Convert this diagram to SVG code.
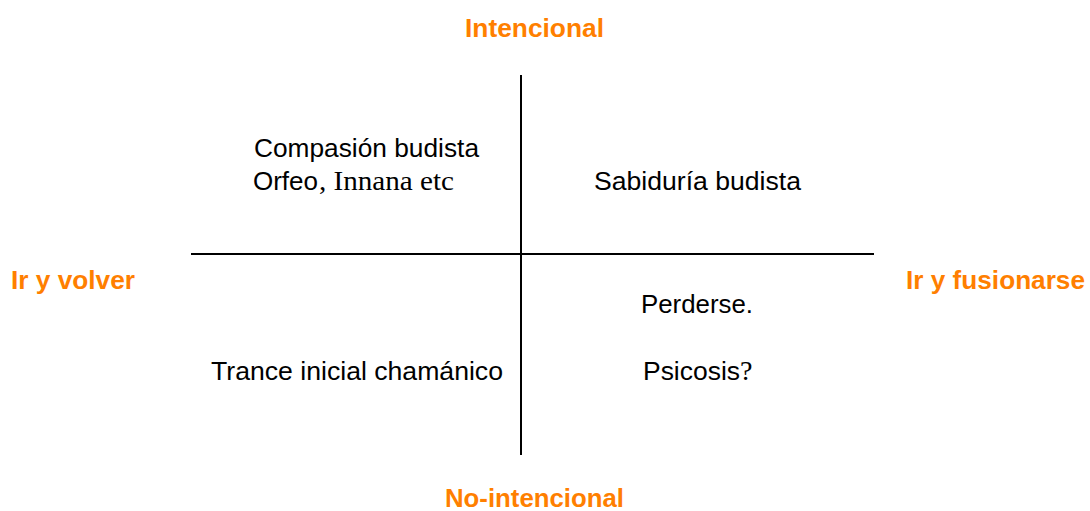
<svg xmlns="http://www.w3.org/2000/svg" width="1090" height="511" viewBox="0 0 1090 511">
<style>
.axis{font-family:"Liberation Sans",Arial,sans-serif;font-weight:bold;font-size:26px;fill:#FF7F00}
.t{font-family:"Liberation Sans",Arial,sans-serif;font-size:26px;fill:#000}
.s{font-family:"Liberation Serif","Times New Roman",serif;font-size:28px;fill:#000}
.ln{stroke:#000;stroke-width:2;fill:none}
</style>
<rect width="1090" height="511" fill="#fff"/>
<g id="connectors">
<line class="ln" x1="521" y1="75" x2="521" y2="455"/>
<line class="ln" x1="191" y1="254" x2="874" y2="254"/>
</g>
<g id="axis-top"><text class="axis" x="465" y="37" textLength="139" lengthAdjust="spacingAndGlyphs">Intencional</text></g>
<g id="axis-bottom"><text class="axis" x="445" y="507" textLength="179" lengthAdjust="spacingAndGlyphs">No-intencional</text></g>
<g id="axis-left"><text class="axis" x="11" y="289" textLength="124" lengthAdjust="spacingAndGlyphs">Ir y volver</text></g>
<g id="axis-right"><text class="axis" x="906" y="289" textLength="179" lengthAdjust="spacingAndGlyphs">Ir y fusionarse</text></g>
<g id="q1"><text class="t" x="254" y="157" textLength="225" lengthAdjust="spacingAndGlyphs">Compasión budista</text><text class="t" x="253" y="190" textLength="65" lengthAdjust="spacingAndGlyphs">Orfeo</text><text class="s" x="319" y="190" textLength="135" lengthAdjust="spacingAndGlyphs">, Innana etc</text></g>
<g id="q2"><text class="t" x="594" y="190" textLength="207" lengthAdjust="spacingAndGlyphs">Sabiduría budista</text></g>
<g id="q3"><text class="t" x="211" y="380" textLength="292" lengthAdjust="spacingAndGlyphs">Trance inicial chamánico</text></g>
<g id="q4"><text class="t" x="641" y="313" textLength="112" lengthAdjust="spacingAndGlyphs">Perderse.</text><text class="t" x="643" y="380" textLength="97" lengthAdjust="spacingAndGlyphs">Psicosis</text><text class="s" x="740" y="380">?</text></g>
</svg>
